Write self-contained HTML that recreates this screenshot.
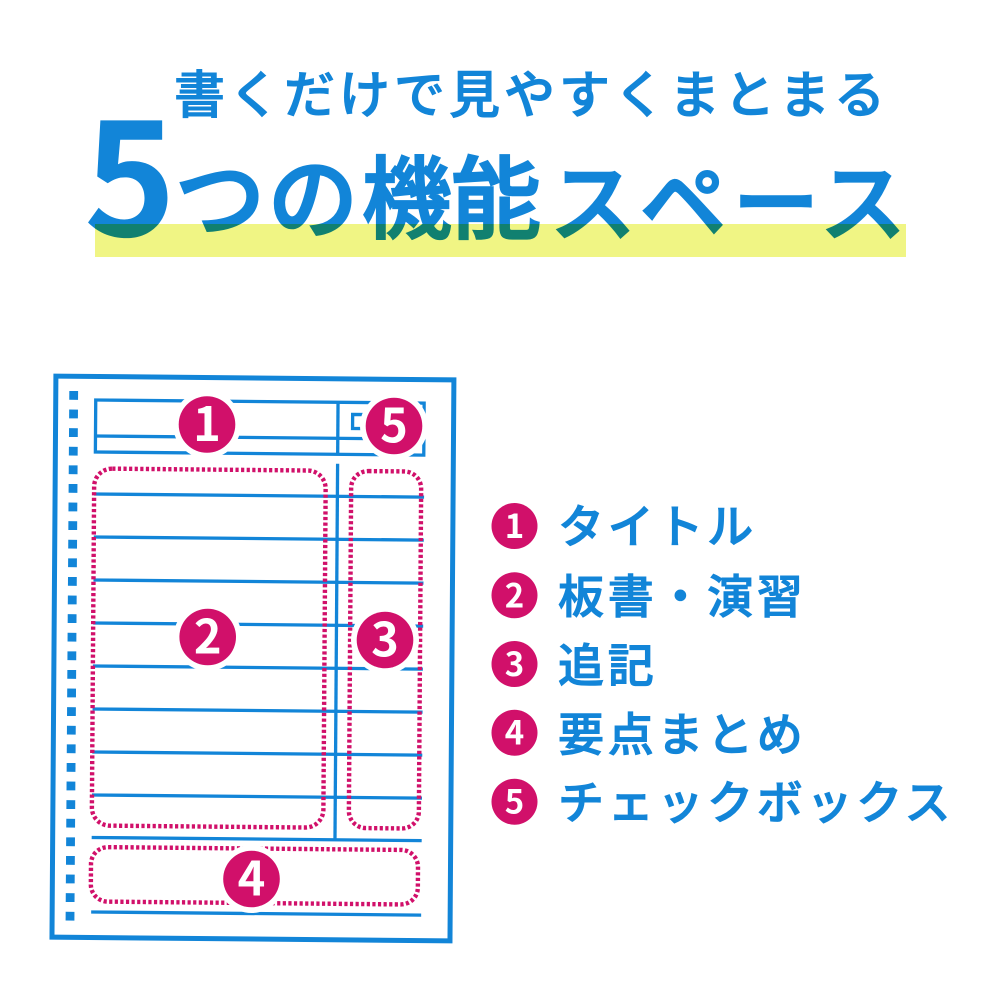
<!DOCTYPE html>
<html lang="ja">
<head>
<meta charset="utf-8">
<style>
html,body{margin:0;padding:0;background:#fff;width:1000px;height:1000px;overflow:hidden}
svg{display:block}
text{font-family:"Liberation Sans","Noto Sans CJK JP",sans-serif;font-weight:500;fill:#1285d8}
.j{font-family:"Noto Sans CJK JP","Liberation Sans",sans-serif;stroke:#1285d8;stroke-width:1;stroke-linejoin:miter}
.t{stroke-width:2.2}
.n{fill:#fff;font-family:"Noto Sans CJK JP","Liberation Sans",sans-serif;text-anchor:middle;font-weight:700}
.b{stroke:#1285d8;stroke-width:3.3;fill:none}
.d{stroke:#d1106a;stroke-width:4.4;fill:none;stroke-dasharray:3.2 2.4}
.s{fill:#1285d8}
.s rect{width:8.8px;height:8.8px}
</style>
</head>
<body>
<svg width="1000" height="1000" viewBox="0 0 1000 1000" xmlns="http://www.w3.org/2000/svg">
<rect width="1000" height="1000" fill="#fff"/>
<rect x="95" y="224" width="811" height="33" fill="#f0f584"/>
<g style="mix-blend-mode:multiply">
<text class="j" x="84" y="236" font-size="156" style="font-weight:700;stroke:none">5</text>
<text class="j t" y="231" font-size="90" x="175 268 362 451">つの機能</text>
<text class="j t" y="234" font-size="86" x="550 640 733 820">スペース</text>
</g>
<text class="j" y="113" font-size="51" x="174" letter-spacing="4">書くだけで見やすくまとまる</text>

<g transform="matrix(1 .0095 -.007 1 4.55 -2.4)">
<rect x="54" y="378" width="398" height="561" fill="#fff" stroke="#1285d8" stroke-width="5"/>
<g class="s" transform="translate(-3.5 1.7)">
<rect x="71" y="391"/><rect x="71" y="409.6"/><rect x="71" y="428.2"/><rect x="71" y="446.8"/><rect x="71" y="465.4"/><rect x="71" y="484"/><rect x="71" y="502.6"/><rect x="71" y="521.2"/><rect x="71" y="539.8"/><rect x="71" y="558.4"/><rect x="71" y="577"/><rect x="71" y="595.6"/><rect x="71" y="614.2"/><rect x="71" y="632.8"/><rect x="71" y="651.4"/><rect x="71" y="670"/><rect x="71" y="688.6"/><rect x="71" y="707.2"/><rect x="71" y="725.8"/><rect x="71" y="744.4"/><rect x="71" y="763"/><rect x="71" y="781.6"/><rect x="71" y="800.2"/><rect x="71" y="818.8"/><rect x="71" y="837.4"/><rect x="71" y="856"/><rect x="71" y="874.6"/><rect x="71" y="893.2"/><rect x="71" y="911.8"/>
</g>
<rect class="b" x="94" y="401.5" width="328.4" height="52"/>
<line class="b" x1="94" y1="437.5" x2="422.4" y2="437.5"/>
<line class="b" x1="336.3" y1="401.5" x2="336.3" y2="453.5"/>
<path class="b" d="M364 413.5H351V427.5H364"/>
<line class="b" x1="336.3" y1="463" x2="336.3" y2="839"/>
<g class="b">
<line x1="93" y1="495.5" x2="423" y2="495.5"/>
<line x1="93" y1="538.5" x2="423" y2="538.5"/>
<line x1="93" y1="581.5" x2="423" y2="581.5"/>
<line x1="93" y1="624.5" x2="423" y2="624.5"/>
<line x1="93" y1="667.5" x2="423" y2="667.5"/>
<line x1="93" y1="710.5" x2="423" y2="710.5"/>
<line x1="93" y1="753.5" x2="423" y2="753.5"/>
<line x1="93" y1="796.5" x2="423" y2="796.5"/>
<line x1="93" y1="839" x2="423" y2="839"/>
<line x1="93" y1="913.5" x2="423" y2="913.5"/>
</g>
<rect class="d" x="93" y="470" width="231.5" height="357" rx="18"/>
<rect class="d" x="350" y="470" width="70" height="357" rx="17"/>
<rect class="d" x="92.5" y="848.5" width="327" height="54.5" rx="17"/>
</g>

<circle cx="207" cy="424.5" r="34" fill="#fff"/><circle cx="207" cy="424.5" r="28.3" fill="#d1106a"/>
<text class="n" x="207" y="441" font-size="47">1</text>
<circle cx="394" cy="426" r="34" fill="#fff"/><circle cx="394" cy="426" r="28.3" fill="#d1106a"/>
<text class="n" x="394" y="442.5" font-size="47">5</text>
<circle cx="207.7" cy="637" r="34" fill="#fff"/><circle cx="207.7" cy="637" r="28.3" fill="#d1106a"/>
<text class="n" x="207.7" y="653.5" font-size="47">2</text>
<circle cx="385" cy="640" r="34" fill="#fff"/><circle cx="385" cy="640" r="28.3" fill="#d1106a"/>
<text class="n" x="385" y="656.5" font-size="47">3</text>
<circle cx="251.5" cy="879" r="34" fill="#fff"/><circle cx="251.5" cy="879" r="28.3" fill="#d1106a"/>
<text class="n" x="251.5" y="895.5" font-size="47">4</text>

<g>
<circle cx="514.5" cy="526" r="23" fill="#d1106a"/><text class="n" x="514.5" y="538" font-size="33">1</text>
<circle cx="514.5" cy="595.3" r="23" fill="#d1106a"/><text class="n" x="514.5" y="607.3" font-size="33">2</text>
<circle cx="514.5" cy="664" r="23" fill="#d1106a"/><text class="n" x="514.5" y="676" font-size="33">3</text>
<circle cx="514.5" cy="732.7" r="23" fill="#d1106a"/><text class="n" x="514.5" y="744.7" font-size="33">4</text>
<circle cx="514.5" cy="801.7" r="23" fill="#d1106a"/><text class="n" x="514.5" y="813.7" font-size="33">5</text>
</g>
<g font-size="46" letter-spacing="3.7">
<text class="j" x="558" y="543">タイトル</text>
<text class="j" x="558" y="613">板書・演習</text>
<text class="j" x="558" y="682">追記</text>
<text class="j" x="558" y="751">要点まとめ</text>
<text class="j" x="558" y="819">チェックボックス</text>
</g>
</svg>
</body>
</html>
